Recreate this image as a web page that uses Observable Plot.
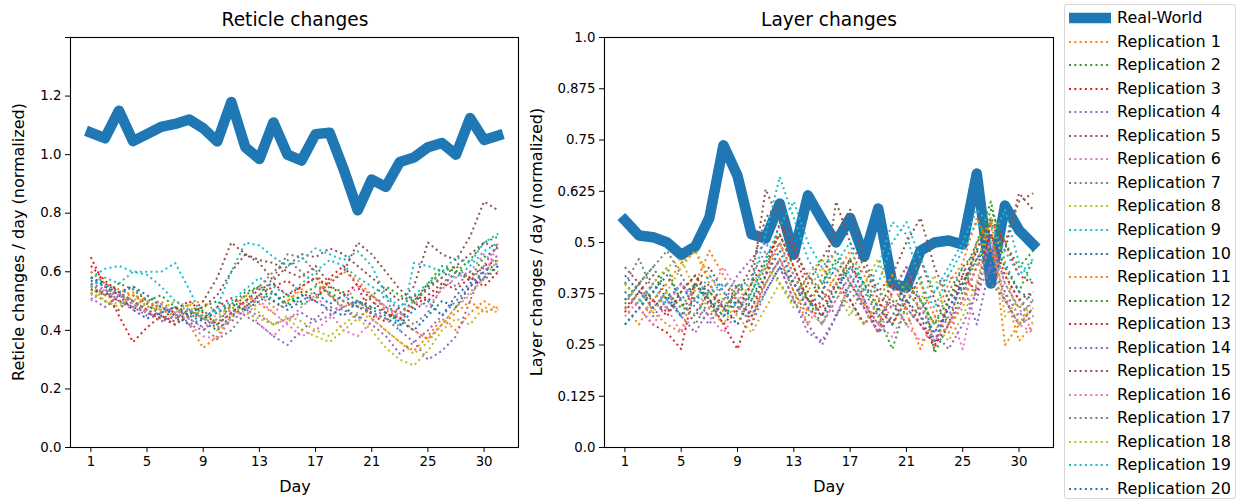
<!DOCTYPE html>
<html><head><meta charset="utf-8">
<script src="https://cdn.jsdelivr.net/npm/d3@7"></script>
<script src="https://cdn.jsdelivr.net/npm/@observablehq/plot@0.6"></script>
<style>
body{margin:0;background:#fff;font-family:"DejaVu Sans",sans-serif;}
#root{position:relative;width:1238px;height:502px;overflow:hidden;}
.abs{position:absolute;white-space:nowrap;color:#000;line-height:1;}
.title{font-size:18.6px;transform:translateX(-50%);}
.xlab{font-size:16px;transform:translateX(-50%);}
.ylab{font-size:16px;transform:translate(-50%,-50%) rotate(-90deg);}
#legend{position:absolute;left:1064px;top:4px;width:172px;height:495px;border:1px solid #d5d5d5;border-radius:3px;box-sizing:border-box;}
.lrow{position:absolute;left:0;height:20px;font-size:16px;line-height:20px;}
.lrow svg{position:absolute;left:2px;top:4px;}
.lrow span{position:absolute;left:52px;top:0;white-space:nowrap;}
</style></head>
<body><div id="root"></div>
<script>
// ---------- data ----------
const dayTickIndex = [0, 4, 8, 12, 16, 20, 24, 28];
const dayTickLabels = ["1", "5", "9", "13", "17", "21", "25", "30"];
const reticleTicks = [0, 0.2, 0.4, 0.6, 0.8, 1.0, 1.2, 1.4];
const layerTicks = [0, 0.125, 0.25, 0.375, 0.5, 0.625, 0.75, 0.875, 1.0];
const seriesNames = ["Real-World"].concat(d3.range(1, 21).map(i => "Replication " + i));
const tab10 = ["#1f77b4","#ff7f0e","#2ca02c","#d62728","#9467bd","#8c564b","#e377c2","#7f7f7f","#bcbd22","#17becf"];

const reticleRealWorld = [1.075,1.056,1.15,1.046,1.07,1.095,1.105,1.12,1.09,1.045,1.18,1.025,0.985,1.11,1.0,0.98,1.07,1.075,0.95,0.81,0.915,0.89,0.975,0.99,1.025,1.04,1.0,1.125,1.05,1.065];
const reticleReplications = [
[0.55,0.52,0.50,0.53,0.48,0.50,0.46,0.42,0.34,0.38,0.45,0.50,0.52,0.48,0.50,0.55,0.58,0.52,0.48,0.50,0.44,0.40,0.36,0.33,0.38,0.44,0.40,0.46,0.50,0.47],
[0.58,0.55,0.52,0.50,0.47,0.49,0.45,0.44,0.47,0.42,0.49,0.53,0.55,0.50,0.52,0.49,0.51,0.55,0.53,0.50,0.47,0.45,0.44,0.49,0.55,0.60,0.62,0.58,0.65,0.68],
[0.65,0.55,0.45,0.36,0.41,0.45,0.42,0.46,0.44,0.48,0.51,0.48,0.52,0.55,0.57,0.53,0.50,0.58,0.62,0.55,0.45,0.43,0.48,0.52,0.50,0.55,0.60,0.58,0.62,0.64],
[0.56,0.54,0.50,0.48,0.45,0.46,0.48,0.42,0.40,0.44,0.47,0.45,0.42,0.38,0.35,0.40,0.44,0.48,0.47,0.45,0.42,0.38,0.32,0.36,0.40,0.45,0.50,0.55,0.60,0.66],
[0.53,0.50,0.47,0.52,0.49,0.45,0.43,0.46,0.48,0.52,0.60,0.66,0.63,0.57,0.62,0.66,0.65,0.68,0.66,0.62,0.58,0.54,0.50,0.55,0.70,0.66,0.64,0.72,0.84,0.81],
[0.52,0.55,0.50,0.47,0.52,0.49,0.46,0.42,0.38,0.37,0.44,0.48,0.42,0.38,0.43,0.48,0.52,0.46,0.40,0.38,0.43,0.48,0.44,0.40,0.37,0.42,0.48,0.53,0.58,0.70],
[0.60,0.56,0.52,0.55,0.50,0.46,0.48,0.44,0.41,0.37,0.40,0.46,0.52,0.58,0.66,0.65,0.60,0.52,0.47,0.44,0.48,0.52,0.46,0.42,0.46,0.55,0.60,0.57,0.62,0.60],
[0.55,0.50,0.48,0.52,0.50,0.48,0.46,0.49,0.45,0.40,0.44,0.50,0.46,0.42,0.44,0.40,0.38,0.36,0.40,0.44,0.40,0.34,0.30,0.28,0.33,0.40,0.44,0.42,0.48,0.46],
[0.58,0.61,0.62,0.60,0.60,0.60,0.63,0.54,0.44,0.48,0.60,0.70,0.69,0.65,0.62,0.64,0.68,0.66,0.64,0.67,0.62,0.52,0.40,0.63,0.62,0.60,0.58,0.62,0.67,0.70],
[0.57,0.55,0.52,0.47,0.44,0.46,0.48,0.45,0.43,0.40,0.45,0.48,0.52,0.50,0.47,0.50,0.53,0.49,0.52,0.48,0.46,0.44,0.42,0.47,0.50,0.45,0.52,0.56,0.60,0.63],
[0.60,0.56,0.54,0.52,0.50,0.47,0.45,0.49,0.50,0.46,0.48,0.52,0.49,0.46,0.50,0.54,0.52,0.57,0.60,0.57,0.52,0.47,0.44,0.40,0.37,0.42,0.46,0.50,0.46,0.48],
[0.54,0.52,0.56,0.54,0.50,0.52,0.48,0.46,0.48,0.50,0.47,0.52,0.55,0.53,0.49,0.52,0.55,0.53,0.50,0.48,0.52,0.55,0.52,0.50,0.56,0.62,0.60,0.64,0.70,0.72],
[0.62,0.57,0.53,0.50,0.47,0.44,0.47,0.50,0.46,0.42,0.46,0.50,0.54,0.56,0.52,0.55,0.58,0.55,0.52,0.56,0.50,0.46,0.44,0.48,0.52,0.56,0.54,0.58,0.55,0.60],
[0.51,0.48,0.52,0.49,0.46,0.43,0.45,0.47,0.44,0.41,0.43,0.47,0.45,0.42,0.44,0.46,0.43,0.45,0.48,0.50,0.46,0.44,0.40,0.36,0.30,0.33,0.38,0.50,0.62,0.70],
[0.54,0.53,0.50,0.48,0.46,0.44,0.42,0.45,0.50,0.58,0.70,0.66,0.64,0.63,0.60,0.58,0.62,0.56,0.60,0.70,0.66,0.60,0.54,0.50,0.55,0.58,0.62,0.66,0.70,0.68],
[0.50,0.54,0.52,0.49,0.46,0.48,0.45,0.44,0.41,0.44,0.47,0.45,0.50,0.46,0.42,0.38,0.40,0.44,0.50,0.55,0.52,0.48,0.45,0.50,0.48,0.54,0.58,0.60,0.66,0.62],
[0.56,0.52,0.53,0.50,0.47,0.45,0.44,0.47,0.44,0.42,0.46,0.50,0.55,0.60,0.64,0.60,0.56,0.52,0.50,0.48,0.52,0.48,0.46,0.50,0.54,0.58,0.55,0.60,0.57,0.62],
[0.53,0.50,0.49,0.51,0.48,0.47,0.50,0.48,0.44,0.45,0.48,0.46,0.44,0.42,0.45,0.43,0.40,0.38,0.42,0.46,0.44,0.40,0.36,0.32,0.36,0.42,0.48,0.52,0.58,0.64],
[0.55,0.58,0.56,0.60,0.59,0.55,0.50,0.47,0.44,0.47,0.50,0.54,0.58,0.55,0.52,0.56,0.60,0.64,0.62,0.58,0.55,0.52,0.48,0.52,0.56,0.60,0.65,0.63,0.70,0.73],
[0.58,0.56,0.53,0.55,0.52,0.48,0.45,0.42,0.44,0.46,0.49,0.47,0.50,0.53,0.48,0.52,0.50,0.47,0.45,0.50,0.48,0.46,0.43,0.40,0.45,0.50,0.48,0.55,0.58,0.62]
];

const layerRealWorld = [0.554,0.517,0.513,0.50,0.47,0.49,0.56,0.737,0.663,0.52,0.51,0.595,0.47,0.615,0.555,0.50,0.56,0.465,0.583,0.40,0.39,0.48,0.50,0.505,0.495,0.668,0.40,0.59,0.53,0.495];
const layerReplications = [
[0.36,0.40,0.33,0.30,0.28,0.40,0.48,0.42,0.35,0.30,0.42,0.50,0.40,0.33,0.42,0.48,0.40,0.35,0.30,0.40,0.33,0.24,0.32,0.40,0.45,0.56,0.48,0.38,0.26,0.30],
[0.40,0.36,0.38,0.44,0.35,0.32,0.38,0.34,0.30,0.38,0.45,0.52,0.44,0.36,0.30,0.38,0.46,0.40,0.32,0.24,0.35,0.42,0.23,0.30,0.38,0.50,0.60,0.45,0.38,0.46],
[0.38,0.34,0.30,0.28,0.24,0.40,0.35,0.30,0.24,0.34,0.42,0.55,0.48,0.38,0.32,0.40,0.46,0.36,0.28,0.38,0.44,0.32,0.24,0.36,0.42,0.38,0.55,0.50,0.42,0.40],
[0.36,0.40,0.34,0.38,0.32,0.28,0.34,0.40,0.36,0.30,0.38,0.44,0.36,0.30,0.25,0.32,0.40,0.35,0.30,0.38,0.44,0.36,0.26,0.32,0.40,0.30,0.45,0.42,0.36,0.32],
[0.34,0.38,0.42,0.36,0.32,0.40,0.44,0.38,0.33,0.40,0.63,0.55,0.48,0.42,0.36,0.60,0.50,0.44,0.36,0.30,0.38,0.46,0.36,0.30,0.42,0.50,0.55,0.48,0.62,0.58],
[0.32,0.36,0.40,0.34,0.28,0.33,0.38,0.44,0.38,0.32,0.40,0.46,0.40,0.34,0.30,0.36,0.42,0.34,0.28,0.35,0.30,0.26,0.28,0.34,0.24,0.40,0.50,0.36,0.30,0.28],
[0.40,0.46,0.38,0.34,0.36,0.30,0.36,0.34,0.38,0.42,0.48,0.40,0.35,0.42,0.38,0.32,0.40,0.44,0.38,0.34,0.40,0.36,0.30,0.38,0.44,0.36,0.52,0.40,0.34,0.38],
[0.38,0.34,0.40,0.44,0.46,0.38,0.34,0.30,0.36,0.40,0.44,0.40,0.34,0.38,0.44,0.38,0.32,0.40,0.46,0.36,0.30,0.36,0.42,0.30,0.34,0.45,0.56,0.32,0.36,0.30],
[0.30,0.34,0.38,0.35,0.40,0.36,0.38,0.40,0.39,0.40,0.52,0.66,0.56,0.46,0.40,0.45,0.50,0.38,0.44,0.55,0.52,0.40,0.34,0.42,0.48,0.55,0.50,0.58,0.45,0.40],
[0.42,0.38,0.34,0.37,0.32,0.36,0.40,0.34,0.30,0.36,0.42,0.48,0.40,0.34,0.38,0.44,0.36,0.30,0.36,0.42,0.34,0.30,0.26,0.34,0.40,0.48,0.42,0.36,0.30,0.34],
[0.34,0.30,0.36,0.40,0.45,0.48,0.40,0.33,0.36,0.32,0.40,0.46,0.38,0.30,0.36,0.42,0.48,0.42,0.34,0.30,0.36,0.40,0.32,0.28,0.36,0.50,0.55,0.25,0.30,0.34],
[0.36,0.40,0.44,0.38,0.34,0.40,0.36,0.32,0.40,0.36,0.44,0.50,0.42,0.36,0.40,0.46,0.40,0.34,0.28,0.32,0.40,0.36,0.30,0.36,0.44,0.48,0.58,0.50,0.44,0.48],
[0.33,0.38,0.36,0.32,0.38,0.42,0.36,0.30,0.34,0.40,0.46,0.52,0.44,0.36,0.34,0.40,0.36,0.30,0.34,0.40,0.36,0.30,0.25,0.30,0.36,0.44,0.52,0.42,0.36,0.38],
[0.40,0.36,0.32,0.36,0.40,0.34,0.30,0.36,0.42,0.46,0.50,0.44,0.36,0.28,0.26,0.32,0.38,0.34,0.28,0.32,0.38,0.34,0.28,0.24,0.30,0.38,0.44,0.38,0.32,0.36],
[0.44,0.40,0.36,0.33,0.38,0.42,0.38,0.34,0.38,0.44,0.56,0.60,0.50,0.40,0.46,0.52,0.58,0.46,0.38,0.42,0.50,0.56,0.44,0.36,0.40,0.48,0.56,0.50,0.60,0.62],
[0.38,0.34,0.30,0.35,0.40,0.36,0.32,0.28,0.33,0.38,0.44,0.50,0.42,0.34,0.30,0.36,0.42,0.36,0.30,0.27,0.34,0.30,0.26,0.30,0.36,0.44,0.50,0.40,0.34,0.28],
[0.35,0.40,0.44,0.48,0.42,0.36,0.32,0.36,0.40,0.34,0.40,0.46,0.38,0.32,0.36,0.40,0.44,0.38,0.32,0.36,0.30,0.34,0.38,0.42,0.38,0.46,0.40,0.36,0.30,0.32],
[0.40,0.36,0.33,0.38,0.44,0.48,0.42,0.36,0.32,0.28,0.34,0.40,0.36,0.42,0.46,0.40,0.34,0.30,0.36,0.42,0.38,0.34,0.30,0.26,0.32,0.40,0.56,0.44,0.30,0.36],
[0.38,0.35,0.40,0.36,0.32,0.36,0.42,0.38,0.34,0.38,0.46,0.54,0.60,0.50,0.44,0.48,0.42,0.36,0.40,0.50,0.55,0.46,0.38,0.44,0.50,0.58,0.54,0.48,0.42,0.46],
[0.30,0.34,0.38,0.42,0.36,0.40,0.36,0.32,0.36,0.32,0.38,0.44,0.40,0.36,0.32,0.38,0.44,0.40,0.34,0.30,0.36,0.32,0.28,0.34,0.40,0.46,0.52,0.44,0.38,0.36]
];

// ---------- drawing ----------
const FONT = "DejaVu Sans";
const RW_WIDTH = 10.5, REP_WIDTH = 2, REP_DASH = "2,3.3";
const root = document.getElementById("root");
const colorOf = k => tab10[k % 10];

function panel({left, width, mLeft, mRight, yDomain, yTicks, yFmt, rw, reps}) {
  const marks = [];
  marks.push(Plot.line(rw, {x: (d, i) => i, y: d => d, stroke: colorOf(0), strokeWidth: RW_WIDTH, strokeLinejoin: "round", strokeLinecap: "square"}));
  reps.forEach((s, k) => {
    marks.push(Plot.line(s, {x: (d, i) => i, y: d => d, stroke: colorOf(k + 1), strokeWidth: REP_WIDTH, strokeDasharray: REP_DASH, strokeLinecap: "butt"}));
  });
  marks.push(Plot.frame({stroke: "#000", strokeWidth: 1.1}));
  marks.push(Plot.axisX({ticks: dayTickIndex, tickFormat: i => dayTickLabels[dayTickIndex.indexOf(i)], tickSize: 5, tickPadding: 4, label: null, fontSize: 13.3}));
  marks.push(Plot.axisY({ticks: yTicks, tickFormat: yFmt, tickSize: 5, tickPadding: 4, label: null, fontSize: 13.3}));
  const svg = Plot.plot({
    width, height: 502,
    marginLeft: mLeft, marginRight: mRight, marginTop: 37, marginBottom: 55,
    x: {domain: [-1.45, 30.45]},
    y: {domain: yDomain},
    style: {fontFamily: FONT, fontSize: "13.3px", color: "#000", background: "transparent", overflow: "visible"},
    marks
  });
  svg.style.position = "absolute";
  svg.style.left = left + "px";
  svg.style.top = "0px";
  root.appendChild(svg);
}

panel({left: 0, width: 530, mLeft: 70, mRight: 12, yDomain: [0, 1.4], yTicks: reticleTicks,
  yFmt: d => d >= 1.4 ? "" : d.toFixed(1), rw: reticleRealWorld, reps: reticleReplications});
panel({left: 530, width: 530, mLeft: 74, mRight: 7, yDomain: [0, 1.0], yTicks: layerTicks,
  yFmt: d => (d === 0 || d === 1) ? d.toFixed(1) : String(d), rw: layerRealWorld, reps: layerReplications});

function addText(cls, txt, x, y) {
  const el = document.createElement("div");
  el.className = "abs " + cls; el.textContent = txt;
  el.style.left = x + "px"; el.style.top = y + "px";
  root.appendChild(el);
}
addText("title", "Reticle changes", 295, 11);
addText("title", "Layer changes", 829, 11);
addText("xlab", "Day", 295, 479);
addText("xlab", "Day", 829, 479);
addText("ylab", "Reticle changes / day (normalized)", 19, 242);
addText("ylab", "Layer changes / day (normalized)", 537, 242);

// legend
const leg = document.createElement("div");
leg.id = "legend";
root.appendChild(leg);
seriesNames.forEach((name, k) => {
  const row = document.createElement("div");
  row.className = "lrow";
  row.style.top = (3 + k * 23.55) + "px";
  const isRW = k === 0;
  row.innerHTML = `<svg width="46" height="12"><line x1="2" x2="44" y1="6" y2="6" stroke="${colorOf(k)}" stroke-width="${isRW ? RW_WIDTH : REP_WIDTH}" ${isRW ? "" : `stroke-dasharray="${REP_DASH}"`}/></svg><span>${name}</span>`;
  leg.appendChild(row);
});
</script></body></html>
